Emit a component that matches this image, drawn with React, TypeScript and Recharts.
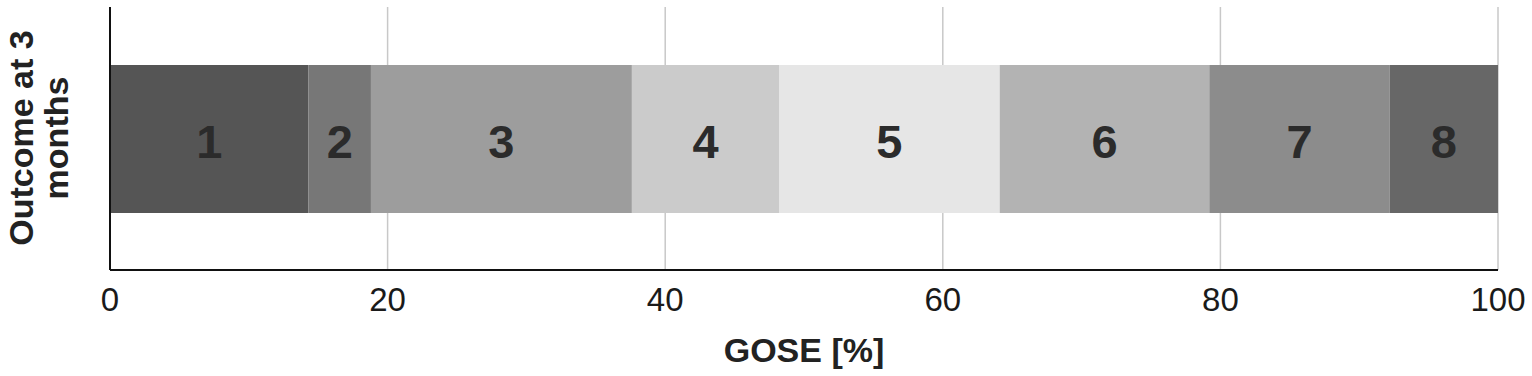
import React from 'react';
import { BarChart, Bar, XAxis, YAxis, CartesianGrid, Label } from 'recharts';

const categories = ['Outcome at 3 months'];
const goseLevels = ['1', '2', '3', '4', '5', '6', '7', '8'];
const goseShares = [14.3, 4.5, 18.8, 10.6, 15.9, 15.1, 13.0, 7.8];
const xTicks = [0, 20, 40, 60, 80, 100];

const COLORS = ['#555555', '#777777', '#9d9d9d', '#cbcbcb', '#e6e6e6', '#b3b3b3', '#8c8c8c', '#676767'];
const FONT = '"Liberation Sans", Arial, Helvetica, sans-serif';

const data = categories.map((name) => {
  const row: Record<string, any> = { name };
  goseLevels.forEach((g, i) => { row['g' + g] = goseShares[i]; });
  return row;
});

const segLabel = (text: string) => (props: any) => {
  const { x, y, width, height } = props;
  return (
    <text x={x + width / 2} y={y + height / 2 + 19} textAnchor="middle" fontSize={47} fontWeight="bold"
      fill="#2b2b2b" fontFamily={FONT}>{text}</text>
  );
};

const xLabel = (props: any) => {
  const { viewBox } = props;
  return (
    <text x={viewBox.x + viewBox.width / 2} y={362} textAnchor="middle" fontSize={34} fontWeight="bold"
      fill="#222" fontFamily={FONT}>GOSE [%]</text>
  );
};

const yLabel = () => (
  <text transform="translate(33,138) rotate(-90)" textAnchor="middle" fontSize={34} fontWeight="bold"
    fill="#222" fontFamily={FONT}>
    <tspan x={0} y={0}>Outcome at 3</tspan>
    <tspan x={0} y={35}>months</tspan>
  </text>
);

export default function App() {
  return (
    <div style={{ position: 'absolute', left: 0, top: 0, background: '#fff' }}>
      <BarChart width={1532} height={376} data={data} layout="vertical"
        margin={{ top: 7, right: 34, bottom: 0, left: 100 }} barSize={148}>
        <CartesianGrid horizontal={false} stroke="#c8c8c8" strokeWidth={1.5} />
        <XAxis type="number" domain={[0, 100]} ticks={xTicks} height={106} tickLine={false} tickSize={0}
          tickMargin={18} axisLine={{ stroke: '#111', strokeWidth: 2 }}
          tick={{ fontSize: 33, fill: '#1a1a1a', fontFamily: FONT }}>
          <Label content={xLabel} />
        </XAxis>
        <YAxis type="category" dataKey="name" width={10} tick={false} tickLine={false}
          axisLine={{ stroke: '#111', strokeWidth: 2 }}>
          <Label content={yLabel} />
        </YAxis>
        {goseLevels.map((g, i) => (
          <Bar key={g} dataKey={'g' + g} stackId="a" fill={COLORS[i]} isAnimationActive={false}
            label={segLabel(g)} />
        ))}
      </BarChart>
    </div>
  );
}
